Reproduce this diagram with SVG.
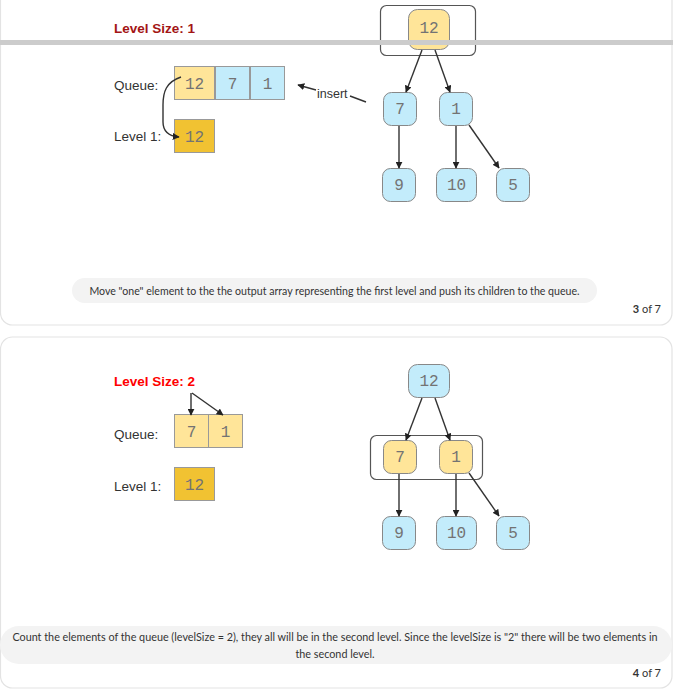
<svg xmlns="http://www.w3.org/2000/svg" width="673" height="690" viewBox="0 0 673 690">
<style>
.card{fill:#fff;stroke:#e3e3e3;stroke-width:1.2}
.pill{fill:#f3f3f3}
.cap{font-family:Lato,"Open Sans",sans-serif;font-size:10.6px;fill:#333}
.cap2{font-family:Lato,"Open Sans",sans-serif;font-size:10.8px;fill:#333}
.pg{font-family:Lato,"Open Sans",sans-serif;font-size:11px;fill:#333}
.lbl{font-family:"Liberation Sans",Arial,sans-serif;font-size:13.5px;fill:#333}
.title{font-family:"Liberation Sans",Arial,sans-serif;font-size:13.5px;font-weight:bold}
.num{font-family:"Liberation Mono","Courier New",monospace;font-size:16px;fill:#737373;text-anchor:middle}
.cy{fill:#ffe599;stroke:#999;stroke-width:1}
.cb{fill:#c3ecfb;stroke:#999;stroke-width:1}
.cg{fill:#f1c232;stroke:#999;stroke-width:1}
.ny{fill:#ffe599;stroke:#888;stroke-width:1}
.nb{fill:#c3ecfb;stroke:#888;stroke-width:1}
.hbox{fill:none;stroke:#555;stroke-width:1.2}
.edge{fill:none;stroke:#333;stroke-width:1.4;marker-end:url(#ah)}
</style>
<defs>
<marker id="ah" viewBox="0 0 10 10" refX="9" refY="5" markerWidth="7" markerHeight="7" markerUnits="userSpaceOnUse" orient="auto">
<path d="M0,0 L10,5 L0,10 z" fill="#222"/>
</marker>
</defs>

<!-- cards -->
<rect class="card" x="0.5" y="-20" width="671.5" height="345" rx="12"/>
<rect class="card" x="0.5" y="337" width="671.5" height="351" rx="12"/>

<!-- top section -->
<g id="title1"><text class="title" x="114" y="33" fill="#a31515">Level Size: 1</text></g>
<g id="queueLabel1"><text class="lbl" x="114" y="90">Queue:</text></g>
<g id="levelLabel1"><text class="lbl" x="114" y="141">Level 1:</text></g>
<g id="q1_12"><rect class="cy" x="174.5" y="66.5" width="40" height="33"/><text class="num" x="194.5" y="89">12</text></g>
<g id="q1_7"><rect class="cb" x="215.5" y="66.5" width="34" height="33"/><text class="num" x="232.5" y="89">7</text></g>
<g id="q1_1"><rect class="cb" x="250.5" y="66.5" width="34" height="33"/><text class="num" x="267.5" y="89">1</text></g>
<g id="l1_12"><rect class="cg" x="174.5" y="119.5" width="40" height="33"/><text class="num" x="194.5" y="142">12</text></g>
<g id="insertLabel"><text x="317" y="98" font-family="Liberation Sans, Arial, sans-serif" font-size="12.5" fill="#333">insert</text></g>

<g id="tree1box"><rect class="hbox" x="380.5" y="5.5" width="95" height="50" rx="6"/></g>
<g id="t1_12"><rect class="ny" x="408.5" y="9.5" width="41" height="40" rx="9"/><text class="num" x="429" y="33">12</text></g>
<g id="t1_7"><rect class="nb" x="383.5" y="92.5" width="33" height="33" rx="8"/><text class="num" x="400" y="114">7</text></g>
<g id="t1_1"><rect class="nb" x="439.5" y="92.5" width="33" height="33" rx="8"/><text class="num" x="456" y="114">1</text></g>
<g id="t1_9"><rect class="nb" x="382.5" y="168.5" width="33" height="33" rx="8"/><text class="num" x="399" y="190">9</text></g>
<g id="t1_10"><rect class="nb" x="436.5" y="168.5" width="40" height="33" rx="8"/><text class="num" x="456.5" y="190">10</text></g>
<g id="t1_5"><rect class="nb" x="496.5" y="168.5" width="33" height="33" rx="8"/><text class="num" x="513" y="190">5</text></g>

<g id="connectors1">
<path class="edge" d="M181,77 C166,82 163,92 163,105 L163,122 C163,131 168,136 179,137"/>
<path class="edge" d="M366,102 L350,96 M316,90 L298,85"/>
<path class="edge" d="M422,50 L406,92"/>
<path class="edge" d="M435,50 L450,92"/>
<path class="edge" d="M399,126 L399,168"/>
<path class="edge" d="M456,126 L456,168"/>
<path class="edge" d="M469,125 L499,168"/>
</g>

<rect x="0" y="40" width="673" height="5" fill="#cccccc"/>

<g id="caption1">
<rect class="pill" x="72" y="278" width="525" height="25" rx="12.5"/>
<text class="cap" x="334.5" y="294.5" text-anchor="middle">Move "one" element to the the output array representing the first level and push its children to the queue.</text>
</g>
<g id="page1"><text class="pg" x="661" y="313" text-anchor="end"><tspan font-weight="bold">3</tspan> of 7</text></g>

<!-- second section -->
<g id="title2"><text class="title" x="114" y="386" fill="#ff0000">Level Size: 2</text></g>
<g id="queueLabel2"><text class="lbl" x="114" y="439">Queue:</text></g>
<g id="levelLabel2"><text class="lbl" x="114" y="491">Level 1:</text></g>
<g id="q2_7"><rect class="cy" x="174.5" y="414.5" width="34" height="33"/><text class="num" x="191.5" y="437">7</text></g>
<g id="q2_1"><rect class="cy" x="208.5" y="414.5" width="34" height="33"/><text class="num" x="225.5" y="437">1</text></g>
<g id="l2_12"><rect class="cg" x="174.5" y="467.5" width="40" height="33"/><text class="num" x="194.5" y="490">12</text></g>

<g id="tree2box"><rect class="hbox" x="370.5" y="435.5" width="112" height="44" rx="6"/></g>
<g id="t2_12"><rect class="nb" x="408.5" y="364.5" width="41" height="33" rx="9"/><text class="num" x="429" y="386">12</text></g>
<g id="t2_7"><rect class="ny" x="383.5" y="440.5" width="33" height="33" rx="8"/><text class="num" x="400" y="462">7</text></g>
<g id="t2_1"><rect class="ny" x="439.5" y="440.5" width="33" height="33" rx="8"/><text class="num" x="456" y="462">1</text></g>
<g id="t2_9"><rect class="nb" x="382.5" y="516.5" width="33" height="33" rx="8"/><text class="num" x="399" y="538">9</text></g>
<g id="t2_10"><rect class="nb" x="436.5" y="516.5" width="40" height="33" rx="8"/><text class="num" x="456.5" y="538">10</text></g>
<g id="t2_5"><rect class="nb" x="496.5" y="516.5" width="33" height="33" rx="8"/><text class="num" x="513" y="538">5</text></g>

<g id="connectors2">
<path class="edge" d="M191,393 L191,415"/>
<path class="edge" d="M192,393 L223,415"/>
<path class="edge" d="M422,398 L406,440"/>
<path class="edge" d="M435,398 L450,440"/>
<path class="edge" d="M399,474 L399,516"/>
<path class="edge" d="M456,474 L456,516"/>
<path class="edge" d="M469,473 L499,516"/>
</g>

<g id="caption2">
<rect class="pill" x="0" y="626" width="672" height="38" rx="19"/>
<text class="cap2" x="335" y="640.5" text-anchor="middle">Count the elements of the queue (levelSize = 2), they all will be in the second level. Since the levelSize is "2" there will be two elements in</text>
<text class="cap2" x="335" y="657.5" text-anchor="middle">the second level.</text>
</g>
<g id="page2"><text class="pg" x="661" y="677" text-anchor="end"><tspan font-weight="bold">4</tspan> of 7</text></g>
</svg>
